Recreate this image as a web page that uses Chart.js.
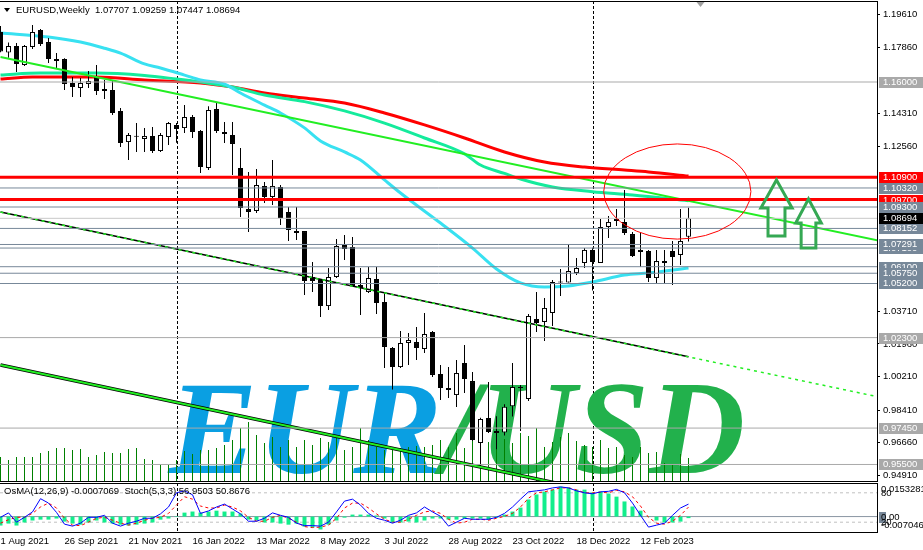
<!DOCTYPE html>
<html>
<head>
<meta charset="utf-8">
<title>EURUSD Weekly</title>
<script src="https://cdn.jsdelivr.net/npm/chart.js@4.4.1/dist/chart.umd.min.js"></script>
<style>
  html, body { margin: 0; padding: 0; background: #fff; }
  #wrap { position: relative; width: 923px; height: 550px; overflow: hidden; }
  canvas { position: absolute; left: 0; }
  #priceChart { top: 0; }
  #oscChart { top: 482px; }
</style>
</head>
<body>
<div id="wrap">
  <canvas id="priceChart" width="923" height="482"></canvas>
  <canvas id="oscChart" width="923" height="68"></canvas>
</div>
<script>
// weekly candles, week of 1 Aug 2021 .. week of 26 Mar 2023 (bar index 0..86)
const opens = [
  1.1868, 1.1758, 1.1793, 1.1691, 1.1788, 1.1879, 1.1814, 1.1723, 1.1723, 1.1595,
  1.1568, 1.1589, 1.1627, 1.1562, 1.1557, 1.1445, 1.1278, 1.1310, 1.1295, 1.1311,
  1.1230, 1.1305, 1.1370, 1.1353, 1.1412, 1.1337, 1.1139, 1.1455, 1.1332, 1.1316,
  1.1139, 1.0919, 1.0909, 1.1043, 1.0984, 1.1037, 1.0903, 1.0801, 1.0801, 1.0555,
  1.0544, 1.0399, 1.0555, 1.0726, 1.0716, 1.0512, 1.0474, 1.0544, 1.0421, 1.0174,
  1.0072, 1.0201, 1.0206, 1.0169, 1.0260, 1.0035, 0.9960, 0.9922, 1.0094, 0.9997,
  0.9665, 0.9799, 0.9730, 0.9722, 0.9862, 0.9965, 0.9901, 1.0330, 1.0314, 1.0362,
  1.0525, 1.0525, 1.0576, 1.0630, 1.0700, 1.0630, 1.0823, 1.0855, 1.0850, 1.0785,
  1.0689, 1.0694, 1.0549, 1.0630, 1.0694, 1.0673, 1.07707
];
const highs = [
  1.1900, 1.1812, 1.1809, 1.1798, 1.1906, 1.1884, 1.1836, 1.1755, 1.1728, 1.1627,
  1.1621, 1.1659, 1.1691, 1.1611, 1.1607, 1.1461, 1.1327, 1.1380, 1.1353, 1.1359,
  1.1327, 1.1386, 1.1380, 1.1477, 1.1423, 1.1343, 1.1470, 1.1488, 1.1386, 1.1386,
  1.1246, 1.1118, 1.1134, 1.1064, 1.1182, 1.1048, 1.0930, 1.0930, 1.0801, 1.0635,
  1.0544, 1.0603, 1.0758, 1.0780, 1.0769, 1.0603, 1.0608, 1.0608, 1.0469, 1.0180,
  1.0265, 1.0255, 1.0287, 1.0362, 1.0265, 1.0083, 1.0072, 1.0110, 1.0190, 1.0045,
  0.9800, 0.9992, 0.9809, 0.9873, 1.0094, 0.9976, 1.0357, 1.0474, 1.0442, 1.0539,
  1.0598, 1.0732, 1.0657, 1.0710, 1.0712, 1.0866, 1.0882, 1.0919, 1.1021, 1.0796,
  1.0796, 1.0700, 1.0700, 1.0700, 1.0748, 1.0919, 1.09259
];
const lows = [
  1.1760, 1.1730, 1.1654, 1.1686, 1.1777, 1.1793, 1.1702, 1.1675, 1.1557, 1.1520,
  1.1520, 1.1568, 1.1530, 1.1509, 1.1423, 1.1252, 1.1182, 1.1225, 1.1225, 1.1220,
  1.1225, 1.1262, 1.1274, 1.1327, 1.1300, 1.1112, 1.1128, 1.1327, 1.1273, 1.1102,
  1.0876, 1.0796, 1.0898, 1.0951, 1.0941, 1.0834, 1.0748, 1.0753, 1.0458, 1.0474,
  1.0340, 1.0378, 1.0549, 1.0646, 1.0501, 1.0351, 1.0469, 1.0356, 1.0067, 0.9952,
  1.0067, 1.0083, 1.0110, 1.0147, 1.0019, 0.9896, 0.9906, 0.9858, 0.9933, 0.9676,
  0.9536, 0.9719, 0.9632, 0.9705, 0.9807, 0.9730, 0.9890, 1.0260, 1.0212, 1.0292,
  1.0453, 1.0525, 1.0566, 1.0603, 1.0483, 1.0630, 1.0764, 1.0828, 1.0780, 1.0662,
  1.0608, 1.0528, 1.0523, 1.0523, 1.0512, 1.0619, 1.07447
];
const closes = [
  1.1763, 1.1793, 1.1696, 1.1793, 1.1868, 1.1804, 1.1723, 1.1713, 1.1589, 1.1573,
  1.1595, 1.1605, 1.1552, 1.1552, 1.1434, 1.1273, 1.1316, 1.1306, 1.1311, 1.1230,
  1.1316, 1.1380, 1.1348, 1.1412, 1.1332, 1.1144, 1.1450, 1.1337, 1.1321, 1.1268,
  1.0925, 1.0903, 1.1048, 1.0984, 1.1043, 1.0871, 1.0807, 1.0791, 1.0533, 1.0533,
  1.0399, 1.0555, 1.0721, 1.0705, 1.0507, 1.0496, 1.0549, 1.0415, 1.0180, 1.0072,
  1.0201, 1.0217, 1.0174, 1.0249, 1.0030, 0.9960, 0.9949, 1.0040, 1.0008, 0.9681,
  0.9794, 0.9724, 0.9719, 0.9860, 0.9965, 0.9960, 1.0346, 1.0308, 1.0389, 1.0528,
  1.0530, 1.0587, 1.0603, 1.0700, 1.0635, 1.0823, 1.0850, 1.0866, 1.0791, 1.0667,
  1.0700, 1.0549, 1.0640, 1.0640, 1.0662, 1.0748, 1.08694
];
// tick volume
const volumes = [
  240, 210, 240, 240, 240, 280, 300, 330, 330, 310,
  320, 240, 260, 290, 280, 280, 320, 330, 220, 210,
  160, 160, 210, 300, 270, 310, 310, 330, 360, 410,
  530, 590, 460, 380, 440, 340, 410, 340, 410, 360,
  430, 390, 440, 310, 340, 530, 410, 340, 310, 330,
  330, 340, 350, 340, 360, 410, 340, 480, 330, 440,
  360, 390, 450, 420, 380, 480, 450, 530, 340, 390,
  440, 480, 400, 360, 340, 410, 330, 340, 260, 240,
  340, 280, 290, 180, 160, 270, 230
];

// moving averages at a few bars
const fastMaBars   = [0, 6, 10, 13, 15, 18, 20, 23, 25, 28, 30, 33, 35, 38, 40, 43, 45, 48, 50, 55, 59, 62, 65, 68, 71, 74, 78, 81, 86];
const fastMaValues = [1.1863, 1.1841, 1.1814, 1.1781, 1.1755, 1.1697, 1.1675, 1.1637, 1.1611, 1.1589, 1.1541, 1.1476, 1.1434, 1.1354, 1.1284, 1.1225, 1.1182, 1.1075, 1.1005, 1.0844, 1.0710, 1.0598, 1.0523, 1.0501, 1.0507, 1.0528, 1.0565, 1.0576, 1.0603];
const midMaBars    = [0, 5, 12, 18, 22, 25, 29, 33, 38, 43, 48, 53, 58, 60, 63, 65, 69, 74, 79, 86];
const midMaValues  = [1.1638, 1.1648, 1.1648, 1.1635, 1.1616, 1.1600, 1.1573, 1.1530, 1.1495, 1.1445, 1.1380, 1.1300, 1.1215, 1.1155, 1.1110, 1.1080, 1.1037, 1.1012, 1.0994, 1.0963];
const slowMaBars   = [0, 4, 12, 18, 25, 29, 33, 38, 43, 48, 53, 58, 63, 68, 73, 78, 81, 86];
const slowMaValues = [1.1616, 1.1627, 1.1627, 1.1611, 1.1595, 1.1573, 1.1541, 1.1514, 1.1487, 1.1434, 1.1370, 1.1300, 1.1225, 1.1171, 1.1144, 1.1128, 1.1118, 1.1096];

// trend lines (end points)
const trendBars = [0, 110];
const upperTrend = [1.1734, 1.0748];
const channelMid = [1.0903, 0.9910];
const channelMidSolidBars = [0, 86];
const channelMidSolid = [1.0903, 1.0127];
const channelLow = [1.0083, 0.9081];

// horizontal levels
const levelValues = [1.16, 1.109, 1.1032, 1.097, 1.093, 1.08152, 1.071, 1.07291, 1.061, 1.0575, 1.052, 1.023, 0.9745, 0.955];
const levelKinds  = ['silver', 'red', 'slate', 'red', 'slate', 'slate', 'slate', 'slate', 'slate', 'slate', 'slate', 'silver', 'silver', 'silver'];

// oscillator window: OsMA(12,26,9) and Stoch(5,3,3)
const osma = [
  -0.0041, -0.0032, -0.0041, -0.0027, -0.0018, -0.0014, -0.0014, -0.0009, -0.0023, -0.0032,
  -0.0037, -0.0027, -0.0018, -0.0027, -0.0032, -0.0037, -0.0041, -0.0037, -0.0032, -0.0027,
  -0.0014, -0.0009, 0.0002, 0.0018, 0.0023, 0.0018, 0.0023, 0.0027, 0.0023, 0.0023,
  0.0014, -0.0014, -0.0018, -0.0027, -0.0027, -0.0032, -0.0037, -0.0032, -0.0046, -0.0050,
  -0.0059, -0.0037, -0.0018, -0.0005, 0.0009, 0.0009, 0.0009, 0.0005, -0.0009, -0.0027,
  -0.0027, -0.0023, -0.0027, -0.0018, -0.0009, -0.0009, -0.0014, -0.0014, -0.0009, -0.0009,
  -0.0009, -0.0014, -0.0005, 0.0009, 0.0023, 0.0041, 0.0078, 0.0101, 0.0114, 0.0123,
  0.0137, 0.0133, 0.0123, 0.0123, 0.0110, 0.0114, 0.0105, 0.0091, 0.0069, 0.0046,
  0.0027, -0.0002, -0.0018, -0.0027, -0.0027, -0.0023, -0.0007069
];
const stochMain = [
  30, 39, 20, 30, 41, 68, 59, 40, 16, 12,
  18, 30, 30, 34, 18, 12, 18, 22, 28, 28,
  37, 51, 80, 84, 76, 38, 43, 51, 57, 47,
  37, 22, 22, 28, 39, 34, 30, 18, 13, 13,
  12, 20, 41, 63, 67, 55, 38, 28, 24, 18,
  24, 34, 39, 51, 41, 32, 12, 20, 28, 26,
  26, 26, 30, 38, 51, 67, 82, 84, 86, 90,
  92, 90, 84, 80, 78, 82, 83, 87, 80, 59,
  34, 10, 14, 18, 34, 49, 56.9503
];
const stochSignal = [
  18, 25, 30, 30, 38, 51, 59, 49, 28, 14,
  13, 20, 28, 30, 24, 18, 14, 18, 24, 28,
  30, 38, 55, 72, 67, 53, 49, 49, 55, 51,
  43, 30, 22, 22, 30, 34, 28, 20, 11, 9,
  10, 14, 28, 49, 59, 59, 49, 37, 26, 20,
  20, 26, 34, 41, 43, 38, 26, 18, 20, 26,
  26, 24, 28, 32, 38, 51, 69, 80, 82, 86,
  90, 90, 86, 80, 80, 81, 80, 85, 82, 72,
  53, 30, 18, 16, 22, 34, 50.8676
];
const stochLevels = [80, 20];
const osmaMax = 0.0153281, osmaMin = -0.0070466;

// axes
const priceTicks = [1.1961, 1.1786, 1.1431, 1.1256, 1.0371, 1.0196, 1.0021, 0.9841, 0.9666, 0.9491];
const dateLabels = ['1 Aug 2021', '26 Sep 2021', '21 Nov 2021', '16 Jan 2022', '13 Mar 2022', '8 May 2022',
                    '3 Jul 2022', '28 Aug 2022', '23 Oct 2022', '18 Dec 2022', '12 Feb 2023'];
const labelStep = 8;
const yearStartBars = [22, 74];

// drawn objects, placed in bar / price units
const ellipse = { bar: 84.6, price: 1.1013, rBars: 9.2, rPrice: 0.0255 };
const arrows = [
  { bar: 97, tip: 1.1075, base: 1.0925, bottom: 1.0775, head: 1.95, shaft: 1.06 },
  { bar: 101, tip: 1.0973, base: 1.0844, bottom: 1.0710, head: 1.6, shaft: 0.92 }
];
const watermark = { bar: 21.0, price: 0.9505, left: 'EUR', right: '/USD' };
const shiftBar = 87.5;

// ---------------------------------------------------------------------------
const FONT_FAMILY = '"Liberation Sans", Arial, sans-serif';
const FONT_SIZE = 9.5;
const FONT = FONT_SIZE + 'px ' + FONT_FAMILY;
const COLORS = { silver: '#a9a9a9', slate: '#778899', red: '#ff0000', black: '#000000' };
const LIME = '#22ee22';

const xMin = -0.0625;
const xMax = xMin + 877 / 8;
const yMin = 0.94614, yMax = 1.20342;

const bars = closes.map((_, i) => i);
const last = closes.length - 1;

function line(xs, ys, opts) {
  return Object.assign({
    type: 'line',
    data: xs.map((x, i) => ({ x: x, y: ys[i] })),
    pointRadius: 0,
    fill: false,
    tension: 0,
    borderWidth: 1
  }, opts);
}

// keep the plot area exactly where the layout puts it
function noEdgePadding(s) {
  s.paddingTop = 0;
  s.paddingBottom = 0;
  s.paddingLeft = 0;
  s.paddingRight = 0;
}

function drawYearSeparators(chart) {
  const { ctx, chartArea: a, scales: { x } } = chart;
  ctx.save();
  ctx.strokeStyle = '#000';
  ctx.lineWidth = 1;
  ctx.setLineDash([3, 2]);
  yearStartBars.forEach(b => {
    const px = Math.round(x.getPixelForValue(b)) + 0.5;
    ctx.beginPath();
    ctx.moveTo(px, a.top);
    ctx.lineTo(px, a.bottom);
    ctx.stroke();
  });
  ctx.restore();
}

function drawFrame(chart) {
  const { ctx, chartArea: a } = chart;
  ctx.save();
  ctx.strokeStyle = '#000';
  ctx.lineWidth = 1;
  ctx.beginPath();
  ctx.moveTo(0, a.top + 0.5);
  ctx.lineTo(a.right + 1, a.top + 0.5);
  ctx.moveTo(a.right + 0.5, a.top);
  ctx.lineTo(a.right + 0.5, a.bottom + 1);
  ctx.moveTo(0, a.bottom + 0.5);
  ctx.lineTo(a.right + 1, a.bottom + 0.5);
  ctx.stroke();
  ctx.restore();
}

function drawTag(ctx, a, yPix, text, bg, fg) {
  const yy = Math.round(yPix);
  ctx.fillStyle = bg;
  ctx.fillRect(a.right + 2, yy - 5, 46, 11);
  ctx.fillStyle = fg;
  ctx.fillText(text, a.right + 6, yy + 0.5);
}

const priceBackground = {
  id: 'priceBackground',
  beforeDatasetsDraw(chart) {
    drawYearSeparators(chart);
    const { ctx, chartArea: a, scales: { x, y } } = chart;
    ctx.save();
    ctx.beginPath();
    ctx.rect(a.left, a.top, a.right - a.left, a.bottom - a.top);
    ctx.clip();
    ctx.font = 'italic bold 133px "Liberation Serif", "Times New Roman", serif';
    ctx.textBaseline = 'alphabetic';
    const x0 = x.getPixelForValue(watermark.bar);
    const y0 = y.getPixelForValue(watermark.price);
    ctx.fillStyle = '#0a9fe2';
    ctx.fillText(watermark.left, x0, y0);
    const w = ctx.measureText(watermark.left).width;
    ctx.fillStyle = '#22b14c';
    ctx.fillText(watermark.right, x0 + w, y0);
    ctx.restore();
  }
};

const priceOverlay = {
  id: 'priceOverlay',
  afterDatasetsDraw(chart) {
    const { ctx, scales: { x, y } } = chart;
    ctx.save();
    // ellipse
    ctx.strokeStyle = '#ff0000';
    ctx.lineWidth = 1;
    ctx.beginPath();
    const ex = x.getPixelForValue(ellipse.bar);
    const ey = y.getPixelForValue(ellipse.price);
    const rx = x.getPixelForValue(ellipse.bar + ellipse.rBars) - ex;
    const ry = y.getPixelForValue(ellipse.price - ellipse.rPrice) - ey;
    ctx.ellipse(ex, ey, rx, ry, 0, 0, Math.PI * 2);
    ctx.stroke();
    // arrows
    ctx.strokeStyle = '#35a853';
    ctx.lineWidth = 3;
    ctx.lineJoin = 'miter';
    arrows.forEach(ar => {
      const cx = x.getPixelForValue(ar.bar);
      const hw = x.getPixelForValue(ar.bar + ar.head) - cx;
      const sw = x.getPixelForValue(ar.bar + ar.shaft) - cx;
      const yt = y.getPixelForValue(ar.tip);
      const yb = y.getPixelForValue(ar.base);
      const ye = y.getPixelForValue(ar.bottom);
      ctx.beginPath();
      ctx.moveTo(cx, yt);
      ctx.lineTo(cx + hw, yb);
      ctx.lineTo(cx + sw, yb);
      ctx.lineTo(cx + sw, ye);
      ctx.lineTo(cx - sw, ye);
      ctx.lineTo(cx - sw, yb);
      ctx.lineTo(cx - hw, yb);
      ctx.closePath();
      ctx.stroke();
    });
    ctx.restore();
  },
  afterDraw(chart) {
    const { ctx, chartArea: a, scales: { x, y } } = chart;
    drawFrame(chart);
    ctx.save();
    // shift marker
    const sx = x.getPixelForValue(shiftBar);
    ctx.fillStyle = '#a0a0a0';
    ctx.beginPath();
    ctx.moveTo(sx - 4, a.top + 1);
    ctx.lineTo(sx + 4, a.top + 1);
    ctx.lineTo(sx, a.top + 6);
    ctx.closePath();
    ctx.fill();
    // title
    ctx.fillStyle = '#000';
    ctx.beginPath();
    ctx.moveTo(4, 8);
    ctx.lineTo(10, 8);
    ctx.lineTo(7, 12);
    ctx.closePath();
    ctx.fill();
    ctx.font = FONT;
    ctx.textBaseline = 'middle';
    ctx.fillText('EURUSD,Weekly  ' + [opens[last], highs[last], lows[last], closes[last]].map(v => v.toFixed(5)).join(' '), 16, 10);
    // price tags
    levelValues.forEach((v, i) => {
      drawTag(ctx, a, y.getPixelForValue(v), v.toFixed(5), COLORS[levelKinds[i]], '#fff');
    });
    drawTag(ctx, a, y.getPixelForValue(closes[last]), closes[last].toFixed(5), '#000', '#fff');
    ctx.restore();
  }
};

const priceDatasets = [
  ...levelValues.map((v, i) => line([xMin, xMax], [v, v], {
    borderColor: COLORS[levelKinds[i]], borderWidth: levelKinds[i] === 'red' ? 3 : 1, order: 0
  })),
  line([xMin, xMax], [closes[last], closes[last]], { borderColor: '#c8c8c8', order: 0 }),
  line(trendBars, upperTrend, { borderColor: LIME, borderWidth: 2, order: 1 }),
  line(trendBars, channelMid, { borderColor: LIME, borderWidth: 1.5, borderDash: [3, 4], order: 1 }),
  line(trendBars, channelLow, { borderColor: LIME, borderWidth: 2, order: 1 }),
  line(channelMidSolidBars, channelMidSolid, { borderColor: '#000', borderWidth: 1.5, order: 2 }),
  line(trendBars, channelLow, { borderColor: '#000', borderWidth: 3.5, order: 2 }),
  {
    type: 'bar', order: 3,
    data: bars.map(i => ({ x: i, y: [opens[i], closes[i]] })),
    backgroundColor: bars.map(i => closes[i] >= opens[i] ? '#ffffff' : '#000000'),
    borderColor: '#000', borderWidth: 1, borderSkipped: false,
    barThickness: 5, grouped: false, minBarLength: 1, inflateAmount: 0
  },
  {
    type: 'bar', order: 4,
    data: bars.map(i => ({ x: i, y: [lows[i], highs[i]] })),
    backgroundColor: '#000', borderWidth: 0, barThickness: 1, grouped: false, inflateAmount: 0
  },
  line(fastMaBars, fastMaValues, { borderColor: '#38e1f1', borderWidth: 3, cubicInterpolationMode: 'monotone', order: 5 }),
  line(midMaBars, midMaValues, { borderColor: '#14eb9c', borderWidth: 3, cubicInterpolationMode: 'monotone', order: 5 }),
  line(slowMaBars, slowMaValues, { borderColor: '#ff0000', borderWidth: 3, cubicInterpolationMode: 'monotone', order: 5 }),
  {
    type: 'bar', order: 6, yAxisID: 'yVol',
    data: bars.map(i => ({ x: i, y: volumes[i] })),
    backgroundColor: '#008000', borderWidth: 0, barThickness: 1, grouped: false, inflateAmount: 0
  }
];

new Chart(document.getElementById('priceChart'), {
  type: 'bar',
  data: { datasets: priceDatasets },
  options: {
    responsive: false,
    animation: false,
    devicePixelRatio: 1,
    events: [],
    layout: { padding: { top: 1, bottom: 1, left: 0, right: 0 } },
    plugins: { legend: { display: false }, tooltip: { enabled: false } },
    scales: {
      x: { type: 'linear', min: xMin, max: xMax, offset: false, display: false, grid: { offset: false } },
      y: {
        position: 'right', min: yMin, max: yMax,
        afterFit: s => { s.width = 46; noEdgePadding(s); },
        afterBuildTicks: s => { s.ticks = priceTicks.map(v => ({ value: v })); },
        ticks: {
          autoSkip: false, padding: 3, color: '#000',
          font: { family: FONT_FAMILY, size: FONT_SIZE },
          callback: v => Number(v).toFixed(5)
        },
        grid: { drawOnChartArea: false, drawTicks: true, tickLength: 3, color: '#000' },
        border: { display: false }
      },
      yVol: { display: false, min: 0, max: 4800 }
    }
  },
  plugins: [priceBackground, priceOverlay]
});

// ---------------------------------------------------------------------------
const oscDecor = {
  id: 'oscDecor',
  beforeDatasetsDraw(chart) {
    drawYearSeparators(chart);
  },
  afterDraw(chart) {
    const { ctx, chartArea: a, scales: { yOs, yS } } = chart;
    drawFrame(chart);
    ctx.save();
    ctx.font = FONT;
    ctx.textBaseline = 'middle';
    ctx.fillStyle = '#000';
    ctx.fillText('OsMA(12,26,9) ' + osma[last].toFixed(7) + '  Stoch(5,3,3) ' +
      stochMain[last].toFixed(4) + ' ' + stochSignal[last].toFixed(4), 4, 9);
    const lx = a.right + 4;
    ctx.fillText(osmaMax.toFixed(7), lx, yOs.getPixelForValue(osmaMax) + 6);
    ctx.fillText(String(stochLevels[0]), lx, yS.getPixelForValue(stochLevels[0]) + 1);
    const zy = Math.round(yOs.getPixelForValue(0));
    ctx.fillStyle = COLORS.slate;
    ctx.fillRect(a.right + 2, zy - 5, 7, 11);
    ctx.fillStyle = '#000';
    ctx.fillText((0).toFixed(2), lx, zy + 0.5);
    ctx.fillText(String(stochLevels[1]), lx, yS.getPixelForValue(stochLevels[1]));
    ctx.fillText(osmaMin.toFixed(7), lx, yOs.getPixelForValue(osmaMin) - 7);
    ctx.restore();
  }
};

const oscDatasets = [
  line(bars, stochMain, { yAxisID: 'yS', borderColor: '#0000ff', order: 0 }),
  line(bars, stochSignal, { yAxisID: 'yS', borderColor: '#ff0000', borderDash: [3, 3], order: 1 }),
  {
    type: 'bar', order: 2, yAxisID: 'yOs',
    data: bars.map(i => ({ x: i, y: osma[i] })),
    backgroundColor: '#12ee8c', borderWidth: 0, barThickness: 4, grouped: false, inflateAmount: 0
  },
  line([xMin, xMax], [0, 0], { yAxisID: 'yOs', borderColor: '#8a96a3', order: 3 }),
  ...stochLevels.map(v => line([xMin, xMax], [v, v], { yAxisID: 'yS', borderColor: '#c0c0c0', borderDash: [3, 3], order: 4 }))
];

new Chart(document.getElementById('oscChart'), {
  type: 'bar',
  data: { datasets: oscDatasets },
  options: {
    responsive: false,
    animation: false,
    devicePixelRatio: 1,
    events: [],
    layout: { padding: { top: 1, bottom: 0, left: 0, right: 0 } },
    plugins: { legend: { display: false }, tooltip: { enabled: false } },
    scales: {
      x: {
        type: 'linear', min: xMin, max: xMax, offset: false, position: 'bottom',
        afterFit: s => { s.height = 18; noEdgePadding(s); },
        afterBuildTicks: s => { s.ticks = dateLabels.map((_, j) => ({ value: j * labelStep })); },
        ticks: {
          autoSkip: false, maxRotation: 0, minRotation: 0, align: 'start', padding: 4, color: '#000',
          font: { family: FONT_FAMILY, size: FONT_SIZE },
          callback: (v, i) => dateLabels[i]
        },
        grid: { display: false, drawOnChartArea: false, drawTicks: false, offset: false },
        border: { display: false }
      },
      yS: {
        position: 'right', min: 0, max: 100,
        afterFit: s => { s.width = 46; noEdgePadding(s); },
        ticks: { display: false },
        grid: { display: false },
        border: { display: false }
      },
      yOs: { display: false, min: osmaMin, max: osmaMax }
    }
  },
  plugins: [oscDecor]
});
</script>
</body>
</html>
